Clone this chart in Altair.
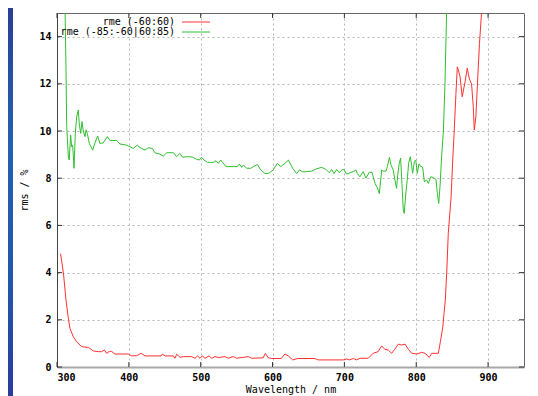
import altair as alt
import pandas as pd

# ---------------- data ----------------
series_names = ["rme (-60:60)", "rme (-85:-60|60:85)"]
series_colors = ["#ff3030", "#2fc02f"]

red_x = [305, 309, 312.5, 315.8, 318, 322.7, 327.4, 334.3, 343.6, 350.6, 357.5, 362, 366, 369,
         372.8, 376, 380.7, 399.3, 404, 411, 417, 422.5, 444.7, 446.6, 450.3, 462, 464.2, 466.6,
         471.2, 475.8, 487.4, 492, 495.7, 499, 502.2, 506, 511.5, 515.3, 519.9, 524.5, 533.8,
         538.4, 545.4, 550, 566.2, 571, 587, 590, 594, 598.8, 612, 617.3, 622, 628, 635, 659,
         661.4, 664, 698.5, 703, 707, 712.4, 717, 721.6, 733.2, 740, 747, 751.8, 756.5, 761,
         765.7, 770.4, 775, 779.7, 784.4, 789, 793.7, 800.6, 807.6, 812.2, 818.2, 821.5, 830.8,
         834, 837, 838.7, 840.5, 842.4, 844.6, 846.5, 848.5, 850.8, 852.5, 855.3, 857.2, 858.5,
         861, 864, 868, 871, 874, 877, 879.4, 880.8, 883, 885, 888, 891, 893]
red_y = [4.8, 3.97, 2.84, 2.06, 1.64, 1.28, 1.07, 0.86, 0.83, 0.68, 0.65, 0.65, 0.72, 0.58,
         0.66, 0.66, 0.55, 0.55, 0.47, 0.48, 0.58, 0.47, 0.47, 0.55, 0.47, 0.47, 0.37, 0.54,
         0.41, 0.44, 0.44, 0.37, 0.47, 0.37, 0.47, 0.37, 0.47, 0.37, 0.44, 0.40, 0.44,
         0.37, 0.44, 0.37, 0.44, 0.37, 0.39, 0.58, 0.39, 0.36, 0.36, 0.55, 0.47, 0.30, 0.36, 0.36,
         0.32, 0.30, 0.30, 0.34, 0.30, 0.36, 0.30, 0.37, 0.37, 0.58, 0.65, 0.89, 0.75, 0.72,
         0.58, 0.76, 0.97, 0.93, 0.97, 0.75, 0.58, 0.55, 0.62, 0.58, 0.41, 0.58, 0.58,
         1.14, 1.71, 2.27, 2.84, 3.97, 5.66, 6.4, 7.2, 8.77, 9.76, 11.6, 12.72, 12.6,
         12.3, 11.45, 12.09, 12.66, 12.2, 12.0, 11.03, 10.04, 10.6, 11.87, 13.7, 15.05, 16.0]

green_x = [305, 309, 311, 312.5, 313.5, 315.8, 317, 319, 320.4, 321.8, 323.7, 325.5, 327.4, 329.7,
           331, 333, 334.8, 336.6, 339, 340.4, 342.2, 345, 349.7, 352.9, 356.6, 359.8, 364.4,
           370, 373.8, 383, 387.7, 397, 401.6, 406, 411.8, 415.5, 422.5, 427, 433, 436, 443.4,
           448, 452.7, 462, 466.5, 471, 474.8, 480.4, 485, 488.8, 494.3, 498, 501.3, 504.6,
           509.2, 517.6, 521.3, 524.5, 527.8, 530.6, 535.2, 545.4, 551, 553.8, 557, 559.4, 564,
           569.6, 573.3, 578.9, 583.6, 589.5, 594.2, 596.5, 601, 606.6, 611.3, 617.3, 622, 628,
           633.6, 637.3, 642, 648.4, 654.5, 660.5, 668.4, 674.4, 679, 682.3, 685.5, 689.3, 692.9,
           696.2, 699.4, 703, 707.8, 712.4, 716.1, 718, 721.6, 726.3, 730, 734.6, 738.4, 742.6,
           745.8, 748.6, 752, 754, 758, 759.8, 762.6, 765, 768, 770.4, 772.7, 774.1, 776.4,
           778.3, 780.1, 782, 783.3, 785.7, 787.5, 789.4, 791.7, 793.6, 795, 797.4, 799.3,
           801.5, 803.8, 806.2, 809, 811.3, 814.5, 816.8, 820.2, 824, 827.5, 829.4, 831.3,
           833.1, 835.5, 837.8, 840, 841.5, 843]
green_y = [20.0, 18.0, 15.5, 12.7, 10.2, 8.9, 8.77, 9.83, 9.33, 9.4, 8.42, 9.9, 10.6, 10.89,
           10.3, 9.9, 10.4, 10.0, 9.76, 10.05, 9.9, 9.47, 9.19, 9.5, 9.79, 9.47, 9.5,
           9.76, 9.6, 9.6, 9.45, 9.4, 9.33, 9.26, 9.4, 9.3, 9.19, 9.29, 9.26, 9.08, 9.02,
           8.93, 9.08, 9.08, 8.91, 9.05, 8.89, 8.91, 8.91, 8.89, 8.8, 8.77, 8.89, 8.77,
           8.67, 8.67, 8.74, 8.63, 8.77, 8.66, 8.49, 8.49, 8.49, 8.6, 8.46, 8.56, 8.42,
           8.42, 8.49, 8.58, 8.35, 8.2, 8.2, 8.25, 8.35, 8.63, 8.49, 8.63, 8.77, 8.42,
           8.2, 8.35, 8.27, 8.28, 8.3, 8.39, 8.46, 8.37, 8.23, 8.37, 8.2, 8.37, 8.23,
           8.35, 8.37, 8.17, 8.23, 8.28, 8.35, 8.2, 8.06, 8.28, 8.0, 8.25, 8.25, 7.78,
           7.6, 7.35, 8.35, 8.3, 8.3, 8.49, 8.88, 8.55, 8.35, 7.92, 7.57, 8.1, 8.63,
           8.85, 7.78, 6.65, 6.51, 7.43, 7.92, 8.63, 8.91, 8.55, 8.21, 8.7, 8.77,
           8.21, 8.6, 8.5, 8.47, 7.85, 7.92, 7.78, 8.06, 8.03, 7.95, 7.35, 6.93,
           7.65, 9.0, 10.0, 12.0, 14.0, 16.0]

x_ticks = [300, 400, 500, 600, 700, 800, 900]
y_ticks = [0, 2, 4, 6, 8, 10, 12, 14]
x_domain = [300, 950]
y_domain = [0, 15]

# ---------------- chart ----------------
W, H = 467, 354
FONT = "DejaVu Sans Mono"

df = pd.concat([
    pd.DataFrame({"wl": red_x, "rms": red_y, "series": series_names[0]}),
    pd.DataFrame({"wl": green_x, "rms": green_y, "series": series_names[1]}),
])

xs = alt.Scale(domain=x_domain, nice=False, zero=False)
ys = alt.Scale(domain=y_domain, nice=False, zero=False)

x_axis = alt.Axis(values=x_ticks, title="Wavelength / nm", titleY=22,
                  titleBaseline="middle", labelPadding=5,
                  domainColor="#a8a8a8", domainWidth=2)
y_axis = alt.Axis(values=y_ticks, title="rms / %", titleX=-33, titleY=H / 2,
                  titleAngle=270, titleBaseline="middle", titleAlign="center",
                  labelPadding=6, domainColor="#444444")

lines = alt.Chart(df).mark_line(strokeWidth=1, clip=True).encode(
    x=alt.X("wl:Q", scale=xs, axis=x_axis, title="Wavelength / nm"),
    y=alt.Y("rms:Q", scale=ys, axis=y_axis, title="rms / %"),
    color=alt.Color("series:N", scale=alt.Scale(domain=series_names, range=series_colors),
                    legend=None),
)

xt = pd.DataFrame({"wl": x_ticks})
yt = pd.DataFrame({"rms": y_ticks})
tick_color = "#333333"
TL = 5

bottom_ticks = alt.Chart(xt).mark_rule(color=tick_color, strokeWidth=1).encode(
    x=alt.X("wl:Q", scale=xs, title="Wavelength / nm"), y=alt.value(H - TL), y2=alt.value(H))
top_ticks = alt.Chart(xt).mark_rule(color=tick_color, strokeWidth=1).encode(
    x=alt.X("wl:Q", scale=xs, title="Wavelength / nm"), y=alt.value(0), y2=alt.value(TL))
left_ticks = alt.Chart(yt).mark_rule(color=tick_color, strokeWidth=1).encode(
    y=alt.Y("rms:Q", scale=ys, title="rms / %"), x=alt.value(0), x2=alt.value(TL))
right_ticks = alt.Chart(yt).mark_rule(color=tick_color, strokeWidth=1).encode(
    y=alt.Y("rms:Q", scale=ys, title="rms / %"), x=alt.value(W - TL), x2=alt.value(W))

# legend (inside, top-left)
legend_layers = []
for i, (name, col) in enumerate(zip(series_names, series_colors)):
    ypix = 9 + 10 * i
    d = pd.DataFrame({"label": [name]})
    legend_layers.append(
        alt.Chart(d).mark_text(align="right", baseline="middle", font=FONT, fontSize=10,
                               color="#000000").encode(
            text="label:N", x=alt.value(118), y=alt.value(ypix)))
    legend_layers.append(
        alt.Chart(d).mark_rule(color=col, strokeWidth=1).encode(
            x=alt.value(125), x2=alt.value(153), y=alt.value(ypix)))

# blue page-border strip on the left
strip = alt.Chart(pd.DataFrame({"a": [0]})).mark_rect(
    color=alt.Gradient(gradient="linear", x1=0, y1=0, x2=0, y2=1,
                       stops=[alt.GradientStop(color="#2a3f94", offset=0),
                              alt.GradientStop(color="#2461b0", offset=0.35),
                              alt.GradientStop(color="#2356aa", offset=0.7),
                              alt.GradientStop(color="#283c9c", offset=1)])
).encode(x=alt.value(-49), x2=alt.value(-44), y=alt.value(-5), y2=alt.value(H + 29))

chart = alt.layer(
    lines, bottom_ticks, top_ticks, left_ticks, right_ticks, strip, *legend_layers
).properties(
    width=W, height=H,
    autosize=alt.AutoSizeParams(type="none"),
    padding={"left": 49, "top": 5, "right": 6, "bottom": 29},
    background="#ffffff",
).configure_view(
    stroke="#666666", strokeWidth=1
).configure_axis(
    labelFont=FONT, labelFontSize=10, labelFontWeight="bold", labelColor="#000000",
    titleFont=FONT, titleFontSize=10, titleFontWeight="normal", titleColor="#000000",
    grid=True, gridColor="#b4b4b4", gridDash=[2, 3], gridWidth=1,
    ticks=False, tickSize=0,
)

chart.save("out.html", embed_options={"renderer": "svg", "actions": False})
